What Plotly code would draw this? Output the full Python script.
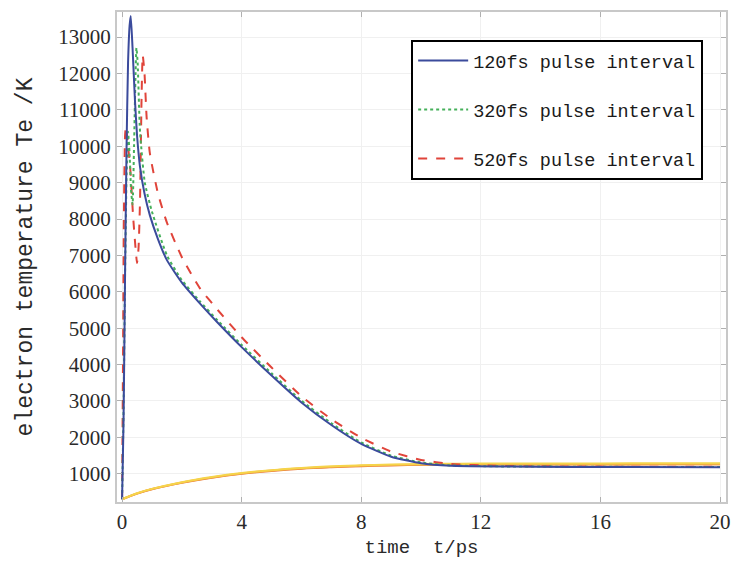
import plotly.graph_objects as go

# electron temperature, 120 fs pulse interval
t_120 = [0, 0.05, 0.1, 0.15, 0.2, 0.25, 0.29, 0.35, 0.43, 0.5, 0.6, 0.75, 0.93, 1.2, 1.5, 2.0, 2.6, 3.2,
         4.0, 5.0, 6.0, 7.0, 8.0, 9.0, 10.0, 11.0, 12.5, 15, 17, 20]
T_120 = [300, 2500, 6500, 10000, 12300, 13300, 13580, 12700, 11270, 10300, 9430, 8700, 8100, 7450, 6870,
         6250, 5680, 5150, 4480, 3700, 2960, 2340, 1820, 1470, 1290, 1220, 1200, 1190, 1185, 1180]

# electron temperature, 320 fs pulse interval
t_320 = [0, 0.05, 0.1, 0.15, 0.2, 0.25, 0.3, 0.35, 0.4, 0.45, 0.48, 0.52, 0.6, 0.76, 1.0, 1.5, 2.0, 2.6,
         3.2, 4.0, 5.0, 6.0, 7.0, 8.0, 9.0, 10.0, 11.0, 12.5, 15, 17, 20]
T_320 = [300, 2800, 6500, 9200, 10400, 9800, 8800, 8400, 10000, 12000, 12700, 12300, 10400, 9000, 8200,
         7000, 6320, 5740, 5210, 4540, 3760, 3010, 2390, 1860, 1500, 1310, 1230, 1205, 1195, 1190, 1185]

# electron temperature, 520 fs pulse interval
t_520 = [0, 0.03, 0.06, 0.1, 0.13, 0.2, 0.27, 0.37, 0.45, 0.5, 0.55, 0.6, 0.65, 0.69, 0.75, 0.82, 0.93,
         1.2, 1.5, 2.0, 2.6, 3.2, 4.0, 5.0, 6.0, 7.0, 8.0, 9.0, 10.0, 11.0, 12.5, 15, 17, 20]
T_520 = [300, 4000, 8000, 10300, 10550, 10000, 9430, 8060, 7200, 6790, 7200, 8500, 11270, 12500, 12000,
         10800, 9800, 8700, 7900, 6950, 6100, 5500, 4750, 3920, 3130, 2500, 1990, 1610, 1380, 1270, 1220,
         1200, 1195, 1190]

# lattice temperatures
t_lat = [0, 0.5, 1, 2, 3, 4, 5, 6, 7, 8, 9, 10, 11, 12, 14, 16, 18, 20]
T_lat_a = [300, 460, 580, 760, 900, 1010, 1090, 1150, 1190, 1220, 1240, 1250, 1255, 1258, 1260, 1262, 1263, 1265]
T_lat_b = [300, 465, 585, 770, 910, 1020, 1100, 1160, 1205, 1235, 1255, 1268, 1276, 1280, 1284, 1286, 1288, 1290]
T_lat_c = [300, 455, 575, 750, 890, 1000, 1080, 1140, 1180, 1210, 1230, 1245, 1250, 1253, 1256, 1258, 1259, 1260]

names = ["120fs pulse interval", "320fs pulse interval", "520fs pulse interval"]
x_ticks = [0, 4, 8, 12, 16, 20]
y_ticks = list(range(1000, 14000, 1000))

fig = go.Figure()

for T, c in [(T_lat_c, "#e8773a"), (T_lat_a, "#f0a443"), (T_lat_b, "#f6d44a")]:
    fig.add_trace(go.Scatter(x=t_lat, y=T, mode="lines", line=dict(color=c, width=2, shape="spline"),
                             showlegend=False, hoverinfo="skip"))

fig.add_trace(go.Scatter(x=t_520, y=T_520, mode="lines", name=names[2], legendgroup="c", legendrank=3,
                         line=dict(color="#e0443a", width=2, dash="dash", shape="spline", smoothing=0.5)))
fig.add_trace(go.Scatter(x=t_320, y=T_320, mode="lines", name=names[1], legendgroup="b", legendrank=2,
                         line=dict(color="#45b05a", width=2, dash="dot", shape="spline", smoothing=0.5)))
fig.add_trace(go.Scatter(x=t_120, y=T_120, mode="lines", name=names[0], legendgroup="a", legendrank=1,
                         line=dict(color="#3b4b9c", width=2, shape="spline", smoothing=0.5)))

axis_common = dict(showline=True, linecolor="#c8c8c8", linewidth=2, mirror="ticks",
                   ticks="inside", ticklen=5, tickcolor="#b0b0b0",
                   showgrid=True, gridcolor="#f0f0f0", gridwidth=1, zeroline=False,
                   tickfont=dict(family="Liberation Serif", size=21, color="#2a2a2a"))

fig.update_xaxes(range=[-0.17, 20.2], tickvals=x_ticks, ticktext=[str(v) for v in x_ticks], **axis_common,
                 title=dict(text="time  t/ps", font=dict(family="Liberation Mono", size=19, color="#2a2a2a"),
                            standoff=6))
fig.update_yaxes(range=[225, 13687], tickvals=y_ticks, ticktext=[str(v) for v in y_ticks], **axis_common,
                 title=dict(text="electron temperature Te /K",
                            font=dict(family="Liberation Mono", size=23, color="#2a2a2a"), standoff=19))

fig.update_layout(
    width=737, height=566,
    margin=dict(l=117, r=7, t=12, b=64),
    paper_bgcolor="white", plot_bgcolor="white",
    legend=dict(x=0.9625, y=0.943, xanchor="right", yanchor="top",
                bgcolor="white", bordercolor="black", borderwidth=2,
                font=dict(family="Liberation Mono", size=18.5, color="#1a1a1a"),
                traceorder="grouped", tracegroupgap=22, itemwidth=50),
    showlegend=True,
)

fig.write_html("out.html")
